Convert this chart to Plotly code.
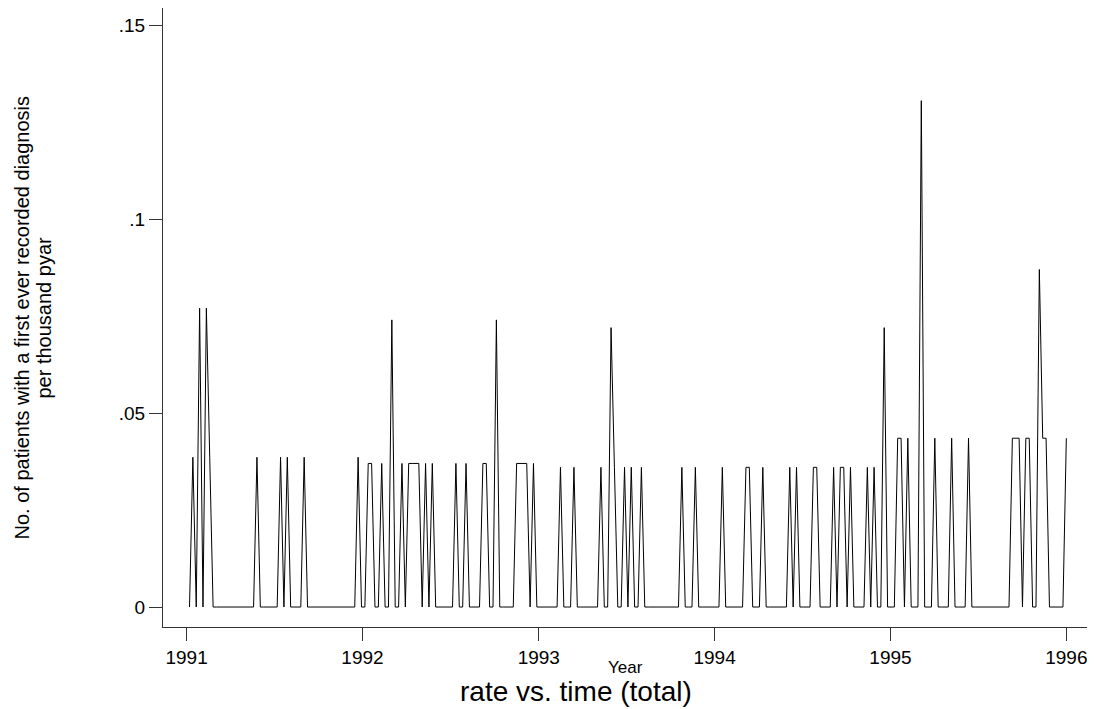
import plotly.graph_objects as go
import pandas as pd

# Weekly series, first week 1991-01-07, 261 weeks
week_dates = pd.date_range("1991-01-07", periods=261, freq="7D")

# Non-zero weeks (index into week_dates) and their rates; all other weeks are 0
spike_weeks = [1, 3, 5, 6, 20, 27, 29, 34, 50,
               53, 54, 57, 60, 63, 65, 66, 67, 68, 70, 72, 79, 82, 87, 88, 91, 97, 98, 99, 100, 102,
               110, 114, 122, 125, 126, 129, 131, 134, 146, 150,
               158, 165, 166, 170, 178, 180, 185, 186, 191, 193, 194, 196, 201, 203, 206,
               210, 211, 213, 217, 221, 226, 231, 244, 245, 246, 248, 249, 252, 253, 254, 260]
spike_rates = [0.0386, 0.077, 0.077, 0.0386, 0.0386, 0.0386, 0.0386, 0.0386, 0.0386,
               0.037, 0.037, 0.037, 0.074, 0.037, 0.037, 0.037, 0.037, 0.037, 0.037, 0.037, 0.037, 0.037, 0.037, 0.037, 0.074, 0.037, 0.037, 0.037, 0.037, 0.037,
               0.036, 0.036, 0.036, 0.072, 0.036, 0.036, 0.036, 0.036, 0.036, 0.036,
               0.036, 0.036, 0.036, 0.036, 0.036, 0.036, 0.036, 0.036, 0.036, 0.036, 0.036, 0.036, 0.036, 0.036, 0.072,
               0.0435, 0.0435, 0.0435, 0.1305, 0.0435, 0.0435, 0.0435, 0.0435, 0.0435, 0.0435, 0.0435, 0.0435, 0.087, 0.0435, 0.0435, 0.0435]

rate = [0.0] * len(week_dates)
for w, r in zip(spike_weeks, spike_rates):
    rate[w] = r

year_ticks = ["1991-01-01", "1992-01-01", "1993-01-01", "1994-01-01", "1995-01-01", "1996-01-01"]
year_labels = ["1991", "1992", "1993", "1994", "1995", "1996"]
y_ticks = [0, 0.05, 0.1, 0.15]
y_labels = ["0", ".05", ".1", ".15"]

FONT = "Liberation Sans, Arial, sans-serif"

fig = go.Figure()
fig.add_trace(go.Scatter(x=week_dates, y=rate, mode="lines",
                         line=dict(color="black", width=1), showlegend=False))

fig.update_layout(
    width=1087, height=701,
    margin=dict(l=155, r=7, t=0, b=82),
    plot_bgcolor="white", paper_bgcolor="white",
    font=dict(family=FONT, color="black"),
    xaxis=dict(type="date", range=["1990-11-13", "1996-02-15"],
               tickvals=year_ticks, ticktext=year_labels,
               showline=True, linecolor="#333", linewidth=1,
               ticks="outside", ticklen=13, tickcolor="#333",
               showgrid=False, zeroline=False,
               tickfont=dict(size=19, family=FONT, color="black")),
    yaxis=dict(range=[-0.00515, 0.15438],
               tickvals=y_ticks, ticktext=y_labels,
               showline=True, linecolor="#333", linewidth=1,
               ticks="outside", ticklen=13, tickcolor="#333",
               showgrid=False, zeroline=False,
               tickfont=dict(size=19, family=FONT, color="black")),
    annotations=[
        dict(text="No. of patients with a first ever recorded diagnosis",
             xref="paper", yref="paper", x=-0.1535, y=0.5, xanchor="center", yanchor="middle",
             textangle=-90, showarrow=False, font=dict(size=20, family=FONT)),
        dict(text="per thousand pyar",
             xref="paper", yref="paper", x=-0.1297, y=0.5, xanchor="center", yanchor="middle",
             textangle=-90, showarrow=False, font=dict(size=20, family=FONT)),
        dict(text="Year", xref="paper", yref="paper", x=0.5, y=-0.0662,
             xanchor="center", yanchor="middle", showarrow=False, font=dict(size=17, family=FONT)),
        dict(text="rate vs. time (total)", xref="paper", yref="paper", x=0.4465, y=-0.1034,
             xanchor="center", yanchor="middle", showarrow=False, font=dict(size=28, family=FONT)),
    ],
)

fig.write_html("out.html")
